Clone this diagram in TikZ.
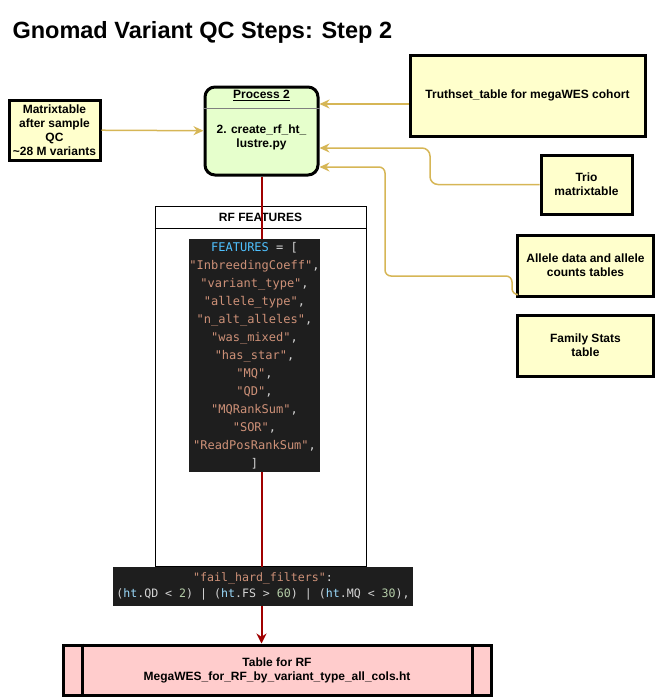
\documentclass[tikz,border=0pt]{standalone}
\usepackage{fontspec}
\setmainfont{Liberation Sans}
\setmonofont{DejaVu Sans Mono}
\usetikzlibrary{arrows.meta,positioning}

\newcommand\cstr[1]{\textcolor{codeStr}{"#1"},}

\begin{document}
\begin{tikzpicture}[x=1pt,y=-1pt]
\definecolor{boxYellow}{RGB}{255,255,204}
			\definecolor{procGreen}{RGB}{230,255,204}
			\definecolor{outPink}{RGB}{255,204,204}
			\definecolor{feedGold}{RGB}{214,182,86}
			\definecolor{flowRed}{RGB}{160,0,0}
			\definecolor{codeBg}{RGB}{30,30,30}
			\definecolor{codePlain}{RGB}{212,212,212}
			\definecolor{codeStr}{RGB}{206,145,120}
			\definecolor{codeKey}{RGB}{79,193,255}
			\definecolor{codeVar}{RGB}{156,220,254}
			\definecolor{codeNum}{RGB}{181,206,168}
			\tikzstyle{boxtext}=[font=\fontsize{12}{14}\selectfont\bfseries, align=center]
			\tikzstyle{source}=[rectangle, draw=black, line width=3pt, fill=boxYellow, boxtext, inner sep=0pt]
			\tikzstyle{codeblock}=[rectangle, fill=codeBg, text=codePlain, align=center, inner sep=0pt, font=\fontsize{12}{18}\selectfont\ttfamily]
			\tikzstyle{feed}=[draw=feedGold, line width=1.5pt, -{Stealth[length=10pt,width=9pt]}]

			\useasboundingbox (0,0) rectangle (656,697);

			\node [anchor=west, font=\fontsize{23.5}{28}\selectfont\bfseries] (title) at (9,32) {Gnomad Variant QC Steps: Step 2};

			\node [source, minimum width=91pt, minimum height=60pt] (mtx) at (54.5,130) {Matrixtable\\after sample\\QC\\\textasciitilde 28 M variants};
			\node [rectangle, rounded corners=10pt, draw=black, line width=3pt, fill=procGreen, minimum width=113pt, minimum height=88pt] (proc) at (261.5,131) {};
			\node [boxtext] (procHead) at ([yshift=-10pt]proc.north) {\underline{Process 2}};
			\draw [gray, line width=0.8pt] ([yshift=-23pt]proc.north west) -- ([yshift=-23pt]proc.north east);
			\node [boxtext] (procBody) at ([yshift=-6pt]proc.center) {2. create\_rf\_ht\_\\lustre.py};

			\node [source, minimum width=235pt, minimum height=81pt] (truth) at (527.5,95.5) {Truthset\_table for megaWES cohort};
			\node [source, minimum width=91pt, minimum height=59pt] (trio) at (586.5,184.5) {Trio\\matrixtable};
			\node [source, minimum width=136pt, minimum height=61pt] (allele) at (585.5,265.5) {Allele data and allele\\counts tables};
			\node [source, minimum width=136pt, minimum height=61pt] (famStats) at (585.5,345.5) {Family Stats\\table};

			\node [rectangle, draw=black, line width=3pt, fill=outPink, boxtext, minimum width=428pt, minimum height=50pt] (outTable) at (277,670) {Table for RF\\MegaWES\_for\_RF\_by\_variant\_type\_all\_cols.ht};
			\draw [line width=3pt] ([xshift=21pt]outTable.north west) -- ([xshift=21pt]outTable.south west);
			\draw [line width=3pt] ([xshift=-20pt]outTable.north east) -- ([xshift=-20pt]outTable.south east);

			\node [rectangle, draw=black, line width=0.8pt, minimum width=211pt, minimum height=360pt] (rfBox) at (260.5,386) {};
			\draw [line width=0.8pt] ([yshift=-23pt]rfBox.north west) -- ([yshift=-23pt]rfBox.north east);
			\node [boxtext] (rfHead) at ([yshift=-11.5pt]rfBox.north) {RF FEATURES};

			\draw [flowRed, line width=2pt, -{Stealth[length=10pt,width=10pt]}] (proc.south) -- (proc.south |- outTable.north);

			\node [codeblock, minimum width=131pt, minimum height=233pt] (featCode) at (254.5,355.5) {\textcolor{codeKey}{FEATURES} = [\\
				\cstr{InbreedingCoeff}\\
				\cstr{variant\_type}\\
				\cstr{allele\_type}\\
				\cstr{n\_alt\_alleles}\\
				\cstr{was\_mixed}\\
				\cstr{has\_star}\\
				\cstr{MQ}\\
				\cstr{QD}\\
				\cstr{MQRankSum}\\
				\cstr{SOR}\\
				\cstr{ReadPosRankSum}\\
				]};
			\node [codeblock, minimum width=300pt, minimum height=39pt, font=\fontsize{11.6}{16}\selectfont\ttfamily] (filterCode) at (263,586.5) {\textcolor{codeStr}{"fail\_hard\_filters"}:\\
				(\textcolor{codeVar}{ht}.QD < \textcolor{codeNum}{2}) | (\textcolor{codeVar}{ht}.FS > \textcolor{codeNum}{60}) | (\textcolor{codeVar}{ht}.MQ < \textcolor{codeNum}{30}),};

			\coordinate (trioBend) at (430,148);
			\coordinate (alleleLow) at (385,276);
			\draw [feed] (mtx) -- (proc);
			\draw [feed] ([yshift=-8.5pt]truth.west) -- ([yshift=-8.5pt]truth.west -| proc.east);
			\draw [feed, rounded corners=8pt] (trio.west) -| (trioBend) -- (trioBend -| proc.east);
			\draw [feed, rounded corners=6pt] ([yshift=3pt]allele.south west) -| ([xshift=-4pt]allele.west |- alleleLow) -- (alleleLow) |- ([yshift=-36pt]proc.east);
		\end{tikzpicture}
\end{document}
